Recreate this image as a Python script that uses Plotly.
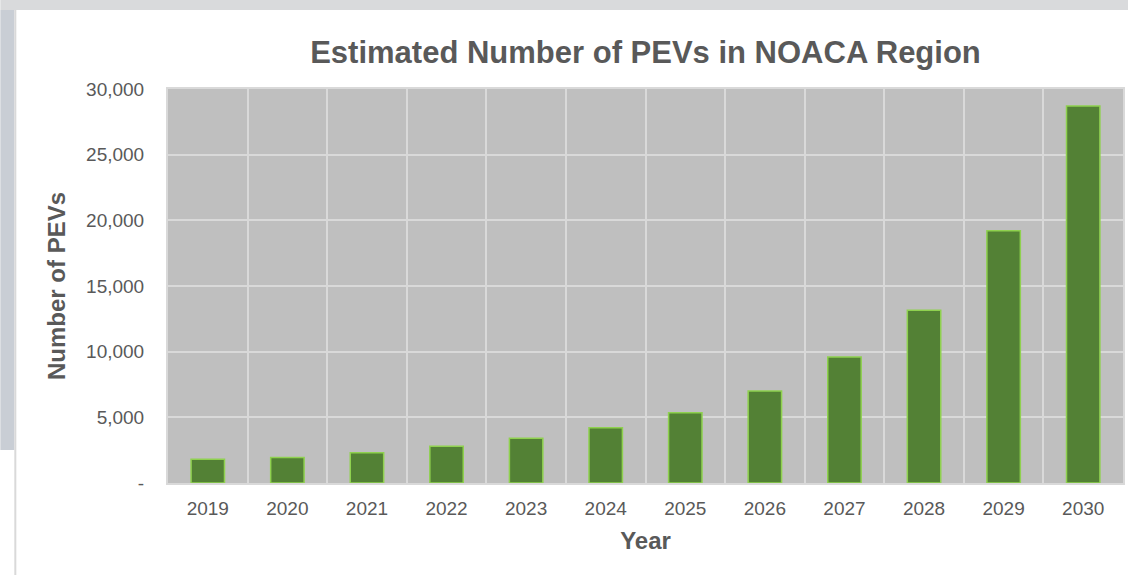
import plotly.graph_objects as go

years = ["2019", "2020", "2021", "2022", "2023", "2024", "2025", "2026", "2027", "2028", "2029", "2030"]
pevs = [1800, 1950, 2300, 2800, 3400, 4200, 5350, 7000, 9600, 13150, 19200, 28700]
y_tick_vals = [0, 5000, 10000, 15000, 20000, 25000, 30000]
y_tick_text = ["-", "5,000", "10,000", "15,000", "20,000", "25,000", "30,000"]

FONT = "Liberation Sans, Arial, sans-serif"
TXT = "#595959"

fig = go.Figure()
fig.add_trace(go.Bar(
    x=years, y=pevs,
    marker=dict(color="#538135", line=dict(color="#8fd14f", width=1.5)),
    width=0.42,
))

W, H = 1130, 575
L, R, T, B = 168, 5, 89, 92
pw, ph = W - L - R, H - T - B

def px(x):
    return (x - L) / pw

def py(y):
    return (H - B - y) / ph

shapes = [
    dict(type="rect", xref="paper", yref="paper", x0=px(0), x1=px(W), y0=py(10), y1=py(0),
         fillcolor="#d9dadc", line=dict(width=0), layer="below"),
    dict(type="rect", xref="paper", yref="paper", x0=px(0), x1=px(14), y0=py(450), y1=py(10),
         fillcolor="#c9ced5", line=dict(width=0), layer="below"),
    dict(type="line", xref="paper", yref="paper", x0=px(15), x1=px(15), y0=py(H), y1=py(10),
         line=dict(color="#d9d9d9", width=2), layer="below"),
]

fig.update_layout(
    width=W, height=H,
    margin=dict(l=L, r=R, t=T, b=B),
    paper_bgcolor="white",
    plot_bgcolor="#bfbfbf",
    font=dict(family=FONT, color=TXT, size=19),
    title=dict(text="<b>Estimated Number of PEVs in NOACA Region</b>",
               x=0.5, xref="paper", xanchor="center",
               y=1 - 52 / H, yanchor="middle",
               font=dict(size=31, color=TXT, family=FONT)),
    showlegend=False,
    bargap=0.58,
    shapes=shapes,
    xaxis=dict(
        type="category",
        tickson="boundaries",
        showgrid=True, gridcolor="#d9d9d9", gridwidth=2,
        ticks="", ticklen=0, ticklabelstandoff=7,
        showline=True, linecolor="#d9d9d9", linewidth=2, mirror=True,
        tickfont=dict(size=19, color=TXT),
        title=dict(text="<b>Year</b>", font=dict(size=24, color=TXT), standoff=14),
    ),
    yaxis=dict(
        range=[0, 30000],
        tickvals=y_tick_vals, ticktext=y_tick_text,
        showgrid=True, gridcolor="#d9d9d9", gridwidth=2,
        zeroline=False,
        ticks="", ticklabelstandoff=18,
        showline=True, linecolor="#d9d9d9", linewidth=2, mirror=True,
        tickfont=dict(size=19, color=TXT),
        title=dict(text="<b>Number of PEVs</b>", font=dict(size=24, color=TXT), standoff=14),
    ),
)

fig.write_html("out.html")
